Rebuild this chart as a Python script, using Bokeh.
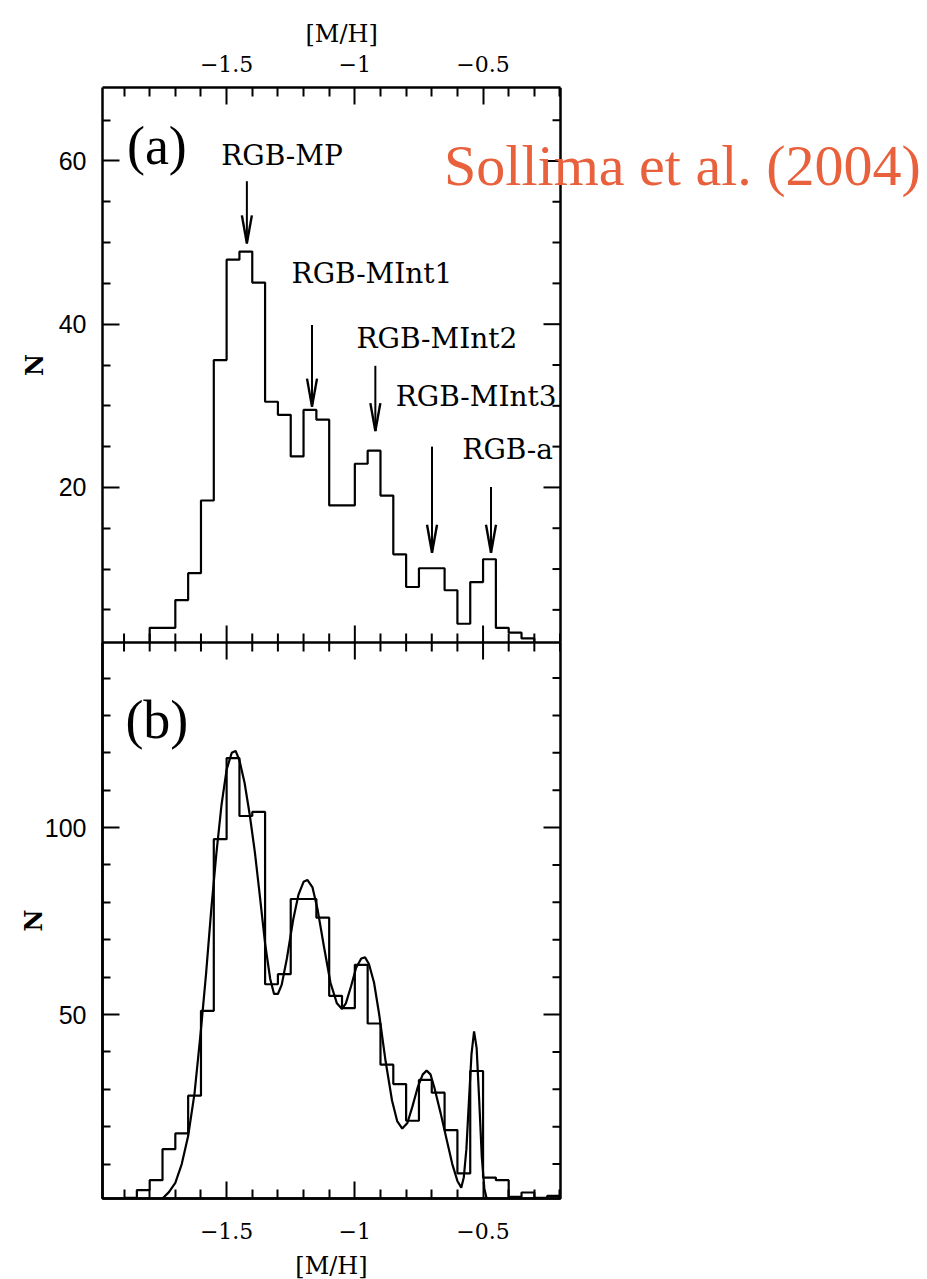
from bokeh.plotting import figure
from bokeh.models import Range1d, LinearAxis, FixedTicker, Label
from bokeh.layouts import column
from bokeh.embed import file_html
from bokeh.resources import INLINE
from bokeh.core.properties import value

# ---------------- data ----------------
BIN_W = 0.05
# panel (a): histogram, left edge of first bin and counts
a_first_edge = -1.80
a_counts = [2.8, 2.8, 6.2, 9.5, 18.4, 35.6, 47.9, 48.9, 45.1, 30.5, 28.9, 23.8,
            29.5, 28.3, 17.8, 17.8, 22.9, 24.5, 19.0, 11.8, 7.8, 10.1, 10.1,
            7.4, 3.3, 8.4, 11.2, 2.8, 2.2, 1.5]
# panel (b): histogram
b_first_edge = -1.90
b_counts = [1.0, 3.05, 5.7, 14.0, 18.2, 28.3, 51.0, 96.9, 118.6, 103.1, 104.2,
            58.1, 60.8, 80.9, 80.9, 75.9, 55.0, 51.7, 63.3, 47.6, 36.6, 31.4,
            21.6, 32.5, 29.1, 19.1, 7.5, 34.9, 6.4, 5.7, 1.25, 2.4, 1.0, 1.5]
# panel (b): fitted curve
fit_x = [-1.76, -1.75, -1.725, -1.70, -1.675, -1.65, -1.625, -1.60, -1.58, -1.56,
         -1.54, -1.52, -1.50, -1.48, -1.465, -1.45, -1.43, -1.41, -1.39, -1.37,
         -1.35, -1.33, -1.315, -1.30, -1.285, -1.265, -1.24, -1.22, -1.20, -1.185,
         -1.165, -1.145, -1.12, -1.095, -1.07, -1.05, -1.035, -1.015, -0.995,
         -0.975, -0.96, -0.945, -0.925, -0.905, -0.88, -0.855, -0.835, -0.815,
         -0.795, -0.775, -0.755, -0.735, -0.72, -0.705, -0.69, -0.665, -0.64,
         -0.62, -0.60, -0.585, -0.575, -0.565, -0.555, -0.545, -0.535, -0.525,
         -0.515, -0.505, -0.495, -0.485, -0.47]
fit_y = [0.0, 0.8, 2.5, 5.0, 10.0, 17.5, 29.0, 46.0, 61.0, 78.0,
         93.0, 106.0, 115.5, 120.0, 120.5, 118.0, 112.0, 103.5, 93.5, 81.5,
         69.0, 59.5, 55.5, 55.5, 58.0, 65.0, 75.5, 82.0, 85.5, 86.0,
         84.0, 78.0, 68.0, 58.5, 53.0, 51.5, 53.0, 57.5, 62.5,
         65.0, 65.3, 63.5, 58.5, 50.0, 37.5, 27.0, 21.5, 19.5,
         21.0, 25.5, 30.5, 34.0, 35.0, 34.0, 30.5, 23.5, 16.0,
         10.0, 5.5, 3.7, 6.5, 14.0, 27.0, 39.5, 45.5, 41.0,
         27.0, 12.0, 3.5, 0.5, 0.0]
# population labels and arrows (panel a)
pop_names = ["RGB-MP", "RGB-MInt1", "RGB-MInt2", "RGB-MInt3", "RGB-a"]
pop_label_x = [-1.284, -0.933, -0.680, -0.527, -0.404]
pop_label_y = [60.7, 46.2, 38.3, 31.1, 24.6]
arrow_x = [-1.421, -1.167, -0.920, -0.699, -0.469]
arrow_from = [57.5, 39.9, 34.9, 25.0, 20.05]
arrow_to = [49.9, 29.9, 26.9, 12.0, 12.0]

x_major = [-1.5, -1.0, -0.5]
x_minor = [-1.9, -1.8, -1.7, -1.6, -1.4, -1.3, -1.2, -1.1, -0.9, -0.8, -0.7,
           -0.6, -0.4, -0.3, -0.2]
x_tick_text = {-1.5: "\u22121.5", -1.0: "\u22121", -0.5: "\u22120.5"}
a_major = [20, 40, 60]
a_minor = [5, 10, 15, 25, 30, 35, 45, 50, 55, 65]
b_major = [50, 100]
b_minor = [10, 20, 30, 40, 60, 70, 80, 90, 110, 120, 130, 140]

XMIN, XMAX = -1.984, -0.198
A_YR = (1.0, 69.0)
B_YR = (0.8, 149.5)

# ---------------- layout constants ----------------
PAGE_W = 927
FW = 458                 # width of the plotting box
LEFT = 102
FW_A = PAGE_W - LEFT     # panel (a) frame runs to page edge so the citation is not clipped
FH_A = 555
FH_B = 556
SERIF = "DejaVu Serif"
SANS = "Liberation Sans"
MAJ, MIN_X, MIN_Y = 17, 9, 8
LW_FRAME = 2.5

px_per_x = FW / (XMAX - XMIN)
px_per_ya = FH_A / (A_YR[1] - A_YR[0])
px_per_yb = FH_B / (B_YR[1] - B_YR[0])


def outline(first_edge, counts, base):
    xs, ys = [first_edge], [base]
    for i, c in enumerate(counts):
        e0 = first_edge + i * BIN_W
        xs += [e0, e0 + BIN_W]
        ys += [c, c]
    xs.append(xs[-1])
    ys.append(base)
    return xs, ys


def style_axis(ax, font, size, standoff):
    ax.axis_line_width = LW_FRAME
    ax.axis_line_color = "black"
    ax.major_tick_out = 0
    ax.minor_tick_out = 0
    ax.major_tick_line_width = 2
    ax.minor_tick_line_width = 2
    ax.major_tick_line_color = "black"
    ax.minor_tick_line_color = "black"
    ax.major_label_text_font = font
    ax.major_label_text_font_size = size
    ax.major_label_text_color = "black"
    ax.major_label_standoff = standoff
    ax.axis_label_text_font = SERIF
    ax.axis_label_text_font_size = "24px"
    ax.axis_label_text_color = "black"


def x_axis(label_standoff, title, title_standoff):
    ax = LinearAxis(ticker=FixedTicker(ticks=x_major, minor_ticks=x_minor))
    style_axis(ax, SERIF, "22px", label_standoff)
    ax.major_tick_in = MAJ
    ax.minor_tick_in = MIN_X
    ax.major_label_overrides = x_tick_text
    ax.axis_label = title
    ax.axis_label_standoff = title_standoff
    ax.axis_label_text_font_style = "normal"
    ax.bounds = (XMIN, XMAX)
    return ax


def y_axis(major, minor, title_standoff):
    ax = LinearAxis(ticker=FixedTicker(ticks=major, minor_ticks=minor))
    style_axis(ax, SANS, "25px", 16)
    ax.major_tick_in = MAJ
    ax.minor_tick_in = MIN_Y
    ax.axis_label = "N"
    ax.axis_label_standoff = title_standoff
    ax.axis_label_text_font_style = "bold"
    return ax


def tick_marks(p, xs_major, xs_minor, y_at, direction, ys_major, ys_minor, py):
    """inward tick marks for the unlabeled sides (right, and shared edge)."""
    lx0, lx1, ly0, ly1 = [], [], [], []
    for ticks, ln in ((xs_major, MAJ), (xs_minor, MIN_X)):
        for t in ticks:
            lx0.append(t); lx1.append(t)
            ly0.append(y_at); ly1.append(y_at + direction * ln / py)
    for ticks, ln in ((ys_major, MAJ), (ys_minor, MIN_Y)):
        for t in ticks:
            lx0.append(XMAX); lx1.append(XMAX - ln / px_per_x)
            ly0.append(t); ly1.append(t)
    p.segment(x0=lx0, y0=ly0, x1=lx1, y1=ly1, line_color="black", line_width=2)


def base_fig(fw, fh, xr_end, yr, top, bottom, right, outline_color):
    p = figure(frame_width=fw, frame_height=fh,
               x_range=Range1d(XMIN, xr_end), y_range=Range1d(*yr),
               x_axis_location=None, y_axis_location=None,
               output_backend="svg", toolbar_location=None,
               min_border_left=LEFT, min_border_right=right,
               min_border_top=top, min_border_bottom=bottom,
               background_fill_color="white", border_fill_color="white",
               outline_line_color=outline_color, outline_line_width=LW_FRAME)
    p.grid.visible = False
    return p


# ---------------- panel (a) ----------------
pa = base_fig(FW_A, FH_A, XMIN + FW_A / px_per_x, A_YR, 87, 0, 0, None)
pa.add_layout(x_axis(16, None, 0), "above")
pa.add_layout(y_axis(a_major, a_minor, 7), "left")
# top axis title, centred over the box (not over the wide frame)
pa.title.text = "[M/H]"
pa.title.align = "left"
pa.title.offset = 203
pa.title.standoff = 10
pa.title.text_font = SERIF
pa.title.text_font_size = "24px"
pa.title.text_font_style = "normal"
pa.title.text_color = "black"
# right and bottom edges of the box
pa.segment(x0=[XMAX, XMIN], y0=[A_YR[0], A_YR[0]], x1=[XMAX, XMAX], y1=[A_YR[1], A_YR[0]],
           line_color="black", line_width=LW_FRAME)
tick_marks(pa, x_major, x_minor, A_YR[0], 1, a_major, a_minor, px_per_ya)

hx, hy = outline(a_first_edge, a_counts, 0.0)
pa.line(hx, hy, line_color="black", line_width=2.2)

HEAD_LEN = 28 / px_per_ya
HEAD_HALF = 5 / px_per_x
pa.segment(x0=arrow_x, y0=arrow_from, x1=arrow_x, y1=arrow_to,
           line_color="black", line_width=2)
pa.segment(x0=arrow_x, y0=arrow_to, x1=[x - HEAD_HALF for x in arrow_x],
           y1=[y + HEAD_LEN for y in arrow_to], line_color="black", line_width=2.4)
pa.segment(x0=arrow_x, y0=arrow_to, x1=[x + HEAD_HALF for x in arrow_x],
           y1=[y + HEAD_LEN for y in arrow_to], line_color="black", line_width=2.4)

pa.text(x=pop_label_x, y=pop_label_y, text=pop_names,
        text_font=value(SERIF), text_font_size="28px", text_color="black",
        text_align="center", text_baseline="middle")
pa.add_layout(Label(x=-1.772, y=61.8, text="(a)", text_font="Liberation Serif",
                    text_font_size="54px", text_align="center",
                    text_baseline="middle", text_color="black"))
pa.add_layout(Label(x=-0.652, y=59.5, text="Sollima et al. (2004)",
                    text_font="Liberation Serif", text_font_size="58px",
                    text_color="#E8603C", text_align="left", text_baseline="middle"))

# ---------------- panel (b) ----------------
pb = base_fig(FW, FH_B, XMAX, B_YR, 0, 81, PAGE_W - LEFT - FW, "black")
pb.add_layout(x_axis(24, "[M/H]", 10), "below")
pb.add_layout(y_axis(b_major, b_minor, -6), "left")
tick_marks(pb, x_major, x_minor, B_YR[1], -1, b_major, b_minor, px_per_yb)

hx, hy = outline(b_first_edge, b_counts, 0.0)
pb.line(hx, hy, line_color="black", line_width=2.2)
pb.line(fit_x, fit_y, line_color="black", line_width=2.2)
pb.add_layout(Label(x=-1.772, y=128.8, text="(b)", text_font="Liberation Serif",
                    text_font_size="54px", text_align="center",
                    text_baseline="middle", text_color="black"))

layout = column(pa, pb, spacing=0)
open("out.html", "w").write(file_html(layout, INLINE))
